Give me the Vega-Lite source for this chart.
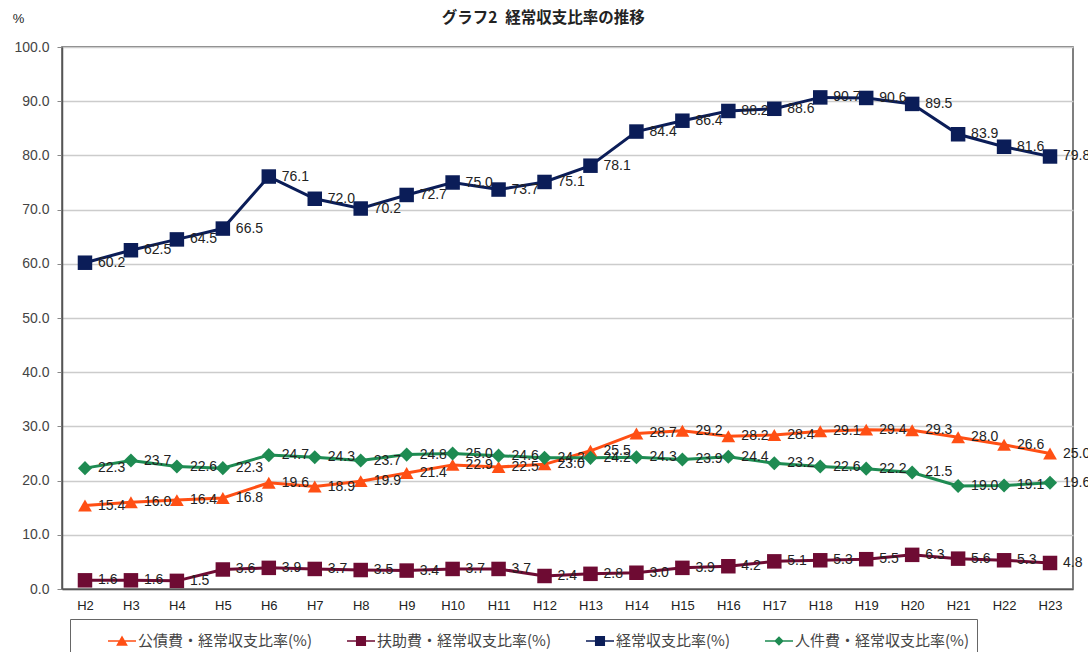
{
  "$schema": "https://vega.github.io/schema/vega-lite/v6.json",
  "autosize": {"type": "none"},
  "width": 1011,
  "height": 542,
  "padding": {"left": 62, "top": 47, "right": 15, "bottom": 63},
  "background": "white",
  "title": {
    "text": "グラフ2\u2002経常収支比率の推移",
    "font": "Noto Sans CJK JP",
    "fontSize": 15.5,
    "fontWeight": "bold",
    "color": "#222",
    "anchor": "middle",
    "frame": "bounds",
    "offset": -14,
    "dx": -8
  },
  "config": {
    "view": {"stroke": "#555", "strokeWidth": 1.5},
    "font": "Liberation Sans",
    "axis": {"labelFont": "Liberation Sans", "labelColor": "#333", "titleFont": "Liberation Sans"}
  },
  "resolve": {"legend": {"color": "independent", "shape": "independent"}},
  "datasets": {
    "rates": [
      {"year": "H2", "series": "公債費・経常収支比率(%)", "value": 15.4},
      {"year": "H3", "series": "公債費・経常収支比率(%)", "value": 16.0},
      {"year": "H4", "series": "公債費・経常収支比率(%)", "value": 16.4},
      {"year": "H5", "series": "公債費・経常収支比率(%)", "value": 16.8},
      {"year": "H6", "series": "公債費・経常収支比率(%)", "value": 19.6},
      {"year": "H7", "series": "公債費・経常収支比率(%)", "value": 18.9},
      {"year": "H8", "series": "公債費・経常収支比率(%)", "value": 19.9},
      {"year": "H9", "series": "公債費・経常収支比率(%)", "value": 21.4},
      {"year": "H10", "series": "公債費・経常収支比率(%)", "value": 22.9},
      {"year": "H11", "series": "公債費・経常収支比率(%)", "value": 22.5},
      {"year": "H12", "series": "公債費・経常収支比率(%)", "value": 23.0},
      {"year": "H13", "series": "公債費・経常収支比率(%)", "value": 25.5},
      {"year": "H14", "series": "公債費・経常収支比率(%)", "value": 28.7},
      {"year": "H15", "series": "公債費・経常収支比率(%)", "value": 29.2},
      {"year": "H16", "series": "公債費・経常収支比率(%)", "value": 28.2},
      {"year": "H17", "series": "公債費・経常収支比率(%)", "value": 28.4},
      {"year": "H18", "series": "公債費・経常収支比率(%)", "value": 29.1},
      {"year": "H19", "series": "公債費・経常収支比率(%)", "value": 29.4},
      {"year": "H20", "series": "公債費・経常収支比率(%)", "value": 29.3},
      {"year": "H21", "series": "公債費・経常収支比率(%)", "value": 28.0},
      {"year": "H22", "series": "公債費・経常収支比率(%)", "value": 26.6},
      {"year": "H23", "series": "公債費・経常収支比率(%)", "value": 25.0},
      {"year": "H2", "series": "扶助費・経常収支比率(%)", "value": 1.6},
      {"year": "H3", "series": "扶助費・経常収支比率(%)", "value": 1.6},
      {"year": "H4", "series": "扶助費・経常収支比率(%)", "value": 1.5},
      {"year": "H5", "series": "扶助費・経常収支比率(%)", "value": 3.6},
      {"year": "H6", "series": "扶助費・経常収支比率(%)", "value": 3.9},
      {"year": "H7", "series": "扶助費・経常収支比率(%)", "value": 3.7},
      {"year": "H8", "series": "扶助費・経常収支比率(%)", "value": 3.5},
      {"year": "H9", "series": "扶助費・経常収支比率(%)", "value": 3.4},
      {"year": "H10", "series": "扶助費・経常収支比率(%)", "value": 3.7},
      {"year": "H11", "series": "扶助費・経常収支比率(%)", "value": 3.7},
      {"year": "H12", "series": "扶助費・経常収支比率(%)", "value": 2.4},
      {"year": "H13", "series": "扶助費・経常収支比率(%)", "value": 2.8},
      {"year": "H14", "series": "扶助費・経常収支比率(%)", "value": 3.0},
      {"year": "H15", "series": "扶助費・経常収支比率(%)", "value": 3.9},
      {"year": "H16", "series": "扶助費・経常収支比率(%)", "value": 4.2},
      {"year": "H17", "series": "扶助費・経常収支比率(%)", "value": 5.1},
      {"year": "H18", "series": "扶助費・経常収支比率(%)", "value": 5.3},
      {"year": "H19", "series": "扶助費・経常収支比率(%)", "value": 5.5},
      {"year": "H20", "series": "扶助費・経常収支比率(%)", "value": 6.3},
      {"year": "H21", "series": "扶助費・経常収支比率(%)", "value": 5.6},
      {"year": "H22", "series": "扶助費・経常収支比率(%)", "value": 5.3},
      {"year": "H23", "series": "扶助費・経常収支比率(%)", "value": 4.8},
      {"year": "H2", "series": "経常収支比率(%)", "value": 60.2},
      {"year": "H3", "series": "経常収支比率(%)", "value": 62.5},
      {"year": "H4", "series": "経常収支比率(%)", "value": 64.5},
      {"year": "H5", "series": "経常収支比率(%)", "value": 66.5},
      {"year": "H6", "series": "経常収支比率(%)", "value": 76.1},
      {"year": "H7", "series": "経常収支比率(%)", "value": 72.0},
      {"year": "H8", "series": "経常収支比率(%)", "value": 70.2},
      {"year": "H9", "series": "経常収支比率(%)", "value": 72.7},
      {"year": "H10", "series": "経常収支比率(%)", "value": 75.0},
      {"year": "H11", "series": "経常収支比率(%)", "value": 73.7},
      {"year": "H12", "series": "経常収支比率(%)", "value": 75.1},
      {"year": "H13", "series": "経常収支比率(%)", "value": 78.1},
      {"year": "H14", "series": "経常収支比率(%)", "value": 84.4},
      {"year": "H15", "series": "経常収支比率(%)", "value": 86.4},
      {"year": "H16", "series": "経常収支比率(%)", "value": 88.2},
      {"year": "H17", "series": "経常収支比率(%)", "value": 88.6},
      {"year": "H18", "series": "経常収支比率(%)", "value": 90.7},
      {"year": "H19", "series": "経常収支比率(%)", "value": 90.6},
      {"year": "H20", "series": "経常収支比率(%)", "value": 89.5},
      {"year": "H21", "series": "経常収支比率(%)", "value": 83.9},
      {"year": "H22", "series": "経常収支比率(%)", "value": 81.6},
      {"year": "H23", "series": "経常収支比率(%)", "value": 79.8},
      {"year": "H2", "series": "人件費・経常収支比率(%)", "value": 22.3},
      {"year": "H3", "series": "人件費・経常収支比率(%)", "value": 23.7},
      {"year": "H4", "series": "人件費・経常収支比率(%)", "value": 22.6},
      {"year": "H5", "series": "人件費・経常収支比率(%)", "value": 22.3},
      {"year": "H6", "series": "人件費・経常収支比率(%)", "value": 24.7},
      {"year": "H7", "series": "人件費・経常収支比率(%)", "value": 24.3},
      {"year": "H8", "series": "人件費・経常収支比率(%)", "value": 23.7},
      {"year": "H9", "series": "人件費・経常収支比率(%)", "value": 24.8},
      {"year": "H10", "series": "人件費・経常収支比率(%)", "value": 25.0},
      {"year": "H11", "series": "人件費・経常収支比率(%)", "value": 24.6},
      {"year": "H12", "series": "人件費・経常収支比率(%)", "value": 24.2},
      {"year": "H13", "series": "人件費・経常収支比率(%)", "value": 24.2},
      {"year": "H14", "series": "人件費・経常収支比率(%)", "value": 24.3},
      {"year": "H15", "series": "人件費・経常収支比率(%)", "value": 23.9},
      {"year": "H16", "series": "人件費・経常収支比率(%)", "value": 24.4},
      {"year": "H17", "series": "人件費・経常収支比率(%)", "value": 23.2},
      {"year": "H18", "series": "人件費・経常収支比率(%)", "value": 22.6},
      {"year": "H19", "series": "人件費・経常収支比率(%)", "value": 22.2},
      {"year": "H20", "series": "人件費・経常収支比率(%)", "value": 21.5},
      {"year": "H21", "series": "人件費・経常収支比率(%)", "value": 19.0},
      {"year": "H22", "series": "人件費・経常収支比率(%)", "value": 19.1},
      {"year": "H23", "series": "人件費・経常収支比率(%)", "value": 19.6}
    ]
  },
  "data": {"name": "rates"},
  "encoding": {
    "x": {
      "field": "year",
      "type": "ordinal",
      "scale": {
        "type": "point",
        "padding": 0.5,
        "domain": ["H2", "H3", "H4", "H5", "H6", "H7", "H8", "H9", "H10", "H11", "H12", "H13", "H14", "H15", "H16", "H17", "H18", "H19", "H20", "H21", "H22", "H23"]
      },
      "axis": {
        "title": null,
        "labelAngle": 0,
        "labelFontSize": 13,
        "labelColor": "#222",
        "labelPadding": 10,
        "ticks": false,
        "domainColor": "#555",
        "domainWidth": 1.5,
        "grid": false
      }
    },
    "y": {
      "field": "value",
      "type": "quantitative",
      "scale": {"domain": [0, 100], "nice": false},
      "axis": {
        "title": "%",
        "titleAngle": 0,
        "titleAlign": "center",
        "titleBaseline": "middle",
        "titleX": -44,
        "titleY": -29,
        "titleFontSize": 13,
        "titleFontWeight": "normal",
        "titleColor": "#222",
        "values": [0, 10, 20, 30, 40, 50, 60, 70, 80, 90, 100],
        "format": ".1f",
        "labelFontSize": 14,
        "labelColor": "#444",
        "labelPadding": 8,
        "tickSize": 5,
        "tickColor": "#888",
        "domainColor": "#555",
        "domainWidth": 1.5,
        "gridColor": "#cccccc",
        "gridWidth": 1.6
      }
    },
    "color": {
      "field": "series",
      "type": "nominal",
      "legend": null,
      "scale": {
        "domain": ["公債費・経常収支比率(%)", "扶助費・経常収支比率(%)", "経常収支比率(%)", "人件費・経常収支比率(%)"],
        "range": ["#ff4f14", "#6e0b33", "#0b1d58", "#1e8b52"]
      }
    }
  },
  "layer": [
    {
      "mark": {"type": "line", "strokeWidth": 3}
    },
    {
      "transform": [{"filter": "datum.series === '公債費・経常収支比率(%)'"}],
      "mark": {"type": "point", "shape": "triangle-up", "filled": true, "opacity": 1, "size": 190}
    },
    {
      "transform": [{"filter": "datum.series === '扶助費・経常収支比率(%)' || datum.series === '経常収支比率(%)'"}],
      "mark": {"type": "point", "shape": "square", "filled": true, "opacity": 1, "size": 210}
    },
    {
      "transform": [{"filter": "datum.series === '人件費・経常収支比率(%)'"}],
      "mark": {"type": "point", "shape": "diamond", "filled": true, "opacity": 1, "size": 200}
    },
    {
      "mark": {"type": "text", "align": "left", "baseline": "middle", "dx": 13, "fontSize": 14, "color": "#222", "font": "Liberation Sans"},
      "encoding": {
        "text": {"field": "value", "type": "quantitative", "format": ".1f"},
        "color": {"value": "#222"}
      }
    },
    {
      "transform": [{"filter": "false"}],
      "mark": {"type": "point", "filled": true, "opacity": 1},
      "encoding": {
        "color": {
          "field": "series",
          "type": "nominal",
          "scale": {
            "domain": ["公債費・経常収支比率(%)", "扶助費・経常収支比率(%)", "経常収支比率(%)", "人件費・経常収支比率(%)"],
            "range": ["#ff4f14", "#6e0b33", "#0b1d58", "#1e8b52"]
          },
          "legend": {
            "title": null,
            "orient": "none",
            "legendX": 8,
            "legendY": 572,
            "direction": "horizontal",
            "strokeColor": "#666",
            "padding": 8,
            "symbolOffset": 30,
            "symbolSize": 784,
            "symbolStrokeWidth": 0,
            "symbolOpacity": 1,
            "labelFont": "Noto Sans CJK JP",
            "labelFontSize": 15,
            "labelColor": "#444",
            "labelOffset": 2,
            "columnPadding": 5,
            "labelLimit": 300
          }
        },
        "shape": {
          "field": "series",
          "type": "nominal",
          "scale": {
            "domain": ["公債費・経常収支比率(%)", "扶助費・経常収支比率(%)", "経常収支比率(%)", "人件費・経常収支比率(%)"],
            "range": [
              "M-1,-0.06L1,-0.06L1,0.06L-1,0.06Z M0,-0.4L0.42,0.34L-0.42,0.34Z",
              "M-1,-0.06L1,-0.06L1,0.06L-1,0.06Z M-0.36,-0.36L0.36,-0.36L0.36,0.36L-0.36,0.36Z",
              "M-1,-0.06L1,-0.06L1,0.06L-1,0.06Z M-0.36,-0.36L0.36,-0.36L0.36,0.36L-0.36,0.36Z",
              "M-1,-0.06L1,-0.06L1,0.06L-1,0.06Z M0,-0.34L0.34,0L0,0.34L-0.34,0Z"
            ]
          },
          "legend": {
            "title": null,
            "orient": "none",
            "legendX": 8,
            "legendY": 572,
            "direction": "horizontal",
            "strokeColor": "#666",
            "padding": 8,
            "symbolOffset": 30,
            "symbolSize": 784,
            "symbolStrokeWidth": 0,
            "symbolOpacity": 1,
            "labelFont": "Noto Sans CJK JP",
            "labelFontSize": 15,
            "labelColor": "#444",
            "labelOffset": 2,
            "columnPadding": 5,
            "labelLimit": 300
          }
        }
      }
    }
  ]
}
